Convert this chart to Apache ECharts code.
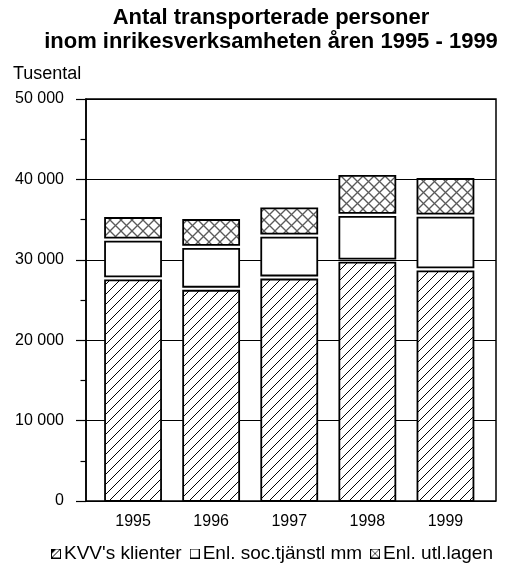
<!DOCTYPE html>
<html lang="sv">
<head>
<meta charset="UTF-8">
<title>Antal transporterade personer</title>
<style>
  html, body { margin: 0; padding: 0; background: #fff; }
  #main { width: 510px; height: 563px; }
</style>
</head>
<body>
<div id="main"></div>
<script src="https://cdn.jsdelivr.net/npm/echarts@6/dist/echarts.min.js"></script>
<script>
// data (tusental)
var years = ['1995', '1996', '1997', '1998', '1999'];
var kvvKlienter = [27700, 26400, 27800, 29900, 28800];
var socTjanst = [4800, 5200, 5200, 5700, 6700];
var utlLagen = [2700, 3350, 3400, 4850, 4550];
var seriesNames = ["KVV's klienter", 'Enl. soc.tjänstl mm', 'Enl. utl.lagen'];
var yMin = 0, yMax = 50000, yStep = 10000;

var FONT = '"Liberation Sans", Arial, sans-serif';

// fill patterns
function hatchCanvas() {
	var c = document.createElement('canvas');
	c.width = 10; c.height = 10;
	var ctx = c.getContext('2d');
	ctx.fillStyle = '#fff';
	ctx.fillRect(0, 0, 10, 10);
	ctx.strokeStyle = '#000';
	ctx.lineWidth = 1;
	[0, 10, 20].forEach(function (k) {
		ctx.beginPath();
		ctx.moveTo(k - 12, 12);
		ctx.lineTo(k + 2, -2);
		ctx.stroke();
	});
	return c;
}
function crossCanvas() {
	var n = 11;
	var c = document.createElement('canvas');
	c.width = n; c.height = n;
	var ctx = c.getContext('2d');
	ctx.fillStyle = '#fff';
	ctx.fillRect(0, 0, n, n);
	ctx.strokeStyle = '#5a5a5a';
	ctx.lineWidth = 1.3;
	[-n, 0, n].forEach(function (k) {
		ctx.beginPath();
		ctx.moveTo(k - 2, -2);
		ctx.lineTo(k + n + 2, n + 2);
		ctx.stroke();
		ctx.beginPath();
		ctx.moveTo(k - 2, n + 2);
		ctx.lineTo(k + n + 2, -2);
		ctx.stroke();
	});
	return c;
}
// small legend icons
function iconUrl(kind) {
	var c = document.createElement('canvas');
	c.width = 10; c.height = 10;
	var ctx = c.getContext('2d');
	ctx.fillStyle = '#fff';
	ctx.fillRect(0, 0, 10, 10);
	ctx.strokeStyle = '#000';
	ctx.lineWidth = 1;
	ctx.strokeRect(0.5, 0.5, 9, 9);
	if (kind === 'hatch') {
		ctx.beginPath(); ctx.moveTo(1, 9); ctx.lineTo(9, 1); ctx.stroke();
		ctx.fillStyle = '#000';
		ctx.beginPath(); ctx.moveTo(1, 1); ctx.lineTo(5, 1); ctx.lineTo(1, 5); ctx.fill();
	}
	if (kind === 'cross') {
		ctx.strokeStyle = '#444';
		ctx.beginPath(); ctx.moveTo(1, 1); ctx.lineTo(9, 9); ctx.stroke();
		ctx.beginPath(); ctx.moveTo(1, 9); ctx.lineTo(9, 1); ctx.stroke();
	}
	return 'image://' + c.toDataURL();
}

var fills = [
	{ image: hatchCanvas(), repeat: 'repeat' },
	'#ffffff',
	{ image: crossCanvas(), repeat: 'repeat' }
];
var icons = [iconUrl('hatch'), iconUrl('plain'), iconUrl('cross')];

// stacked segments [index, bottom, top]
var layers = [kvvKlienter, socTjanst, utlLagen];
var base = years.map(function () { return 0; });
var segData = layers.map(function (vals) {
	return vals.map(function (v, i) {
		var row = [i, base[i], base[i] + v];
		base[i] += v;
		return row;
	});
});

function makeRender(fill, isTop) {
	return function (params, api) {
		var lo = api.value(1), hi = api.value(2);
		var pLo = api.coord([api.value(0), lo]);
		var pHi = api.coord([api.value(0), hi]);
		var bw = api.size([1, 0])[0] * 0.717;
		var yTop = pHi[1] + (isTop ? 0 : 2);
		var yBot = pLo[1] - (lo > 0 ? 2 : 0);
		return {
			type: 'rect',
			shape: { x: pLo[0] - bw / 2, y: yTop, width: bw, height: yBot - yTop },
			style: { fill: fill, stroke: '#000', lineWidth: 1.8 }
		};
	};
}

function fmt(v) {
	return String(v).replace(/\B(?=(\d{3})+(?!\d))/g, ' ');
}

var myChart = echarts.init(document.getElementById('main'), null, { renderer: 'canvas' });
var option = {
	animation: false,
	backgroundColor: '#fff',
	textStyle: { fontFamily: FONT, color: '#000' },
	graphic: [
		{ type: 'text', x: 271, y: 18, style: { text: 'Antal transporterade personer', font: 'bold 22px ' + FONT, fill: '#000', textAlign: 'center', textVerticalAlign: 'middle', align: 'center', verticalAlign: 'middle' } },
		{ type: 'text', x: 271, y: 42, style: { text: 'inom inrikesverksamheten åren 1995 - 1999', font: 'bold 22px ' + FONT, fill: '#000', textAlign: 'center', textVerticalAlign: 'middle', align: 'center', verticalAlign: 'middle' } },
		{ type: 'text', x: 13, y: 74, style: { text: 'Tusental', font: '18px ' + FONT, fill: '#000', textVerticalAlign: 'middle', verticalAlign: 'middle' } }
	],
	legend: {
		left: 46,
		top: 539,
		itemWidth: 10,
		itemHeight: 10,
		itemGap: 8,
		selectedMode: false,
		textStyle: { fontSize: 19, fontFamily: FONT, color: '#000', padding: [0, 0, 0, -2] },
		data: seriesNames.map(function (n, i) { return { name: n, icon: icons[i] }; })
	},
	grid: [
		{ left: 86, right: 14, top: 99, bottom: 62, show: true, borderColor: '#000', borderWidth: 1.5 },
		{ left: 94, right: 25.5, top: 99, bottom: 62 }
	],
	xAxis: [
		{ type: 'value', gridIndex: 0, show: false, min: 0, max: 1 },
		{
			type: 'category', gridIndex: 1, data: years,
			axisLine: { show: false }, axisTick: { show: false },
			axisLabel: { fontSize: 16, fontFamily: FONT, color: '#000', margin: 13 }
		}
	],
	yAxis: [
		{
			type: 'value', gridIndex: 0, min: yMin, max: yMax, interval: yStep,
			axisLine: { show: true, lineStyle: { color: '#000', width: 1.5 } },
			axisTick: { show: true, length: 10, lineStyle: { color: '#000', width: 1.2 } },
			minorTick: { show: true, splitNumber: 2, length: 5.5, lineStyle: { color: '#000', width: 1.2 } },
			splitLine: { show: true, lineStyle: { color: '#000', width: 1 } },
			axisLabel: { fontSize: 16, fontFamily: FONT, color: '#000', margin: 22, formatter: fmt }
		},
		{ type: 'value', gridIndex: 1, min: yMin, max: yMax, interval: yStep, show: false }
	],
	series: seriesNames.map(function (n, s) {
		return {
			name: n,
			type: 'custom',
			xAxisIndex: 1,
			yAxisIndex: 1,
			itemStyle: { color: s === 1 ? '#fff' : '#888', borderColor: '#000' },
			renderItem: makeRender(fills[s], s === layers.length - 1),
			encode: { x: 0, y: [1, 2] },
			data: segData[s]
		};
	})
};
myChart.setOption(option);
</script>
</body>
</html>
